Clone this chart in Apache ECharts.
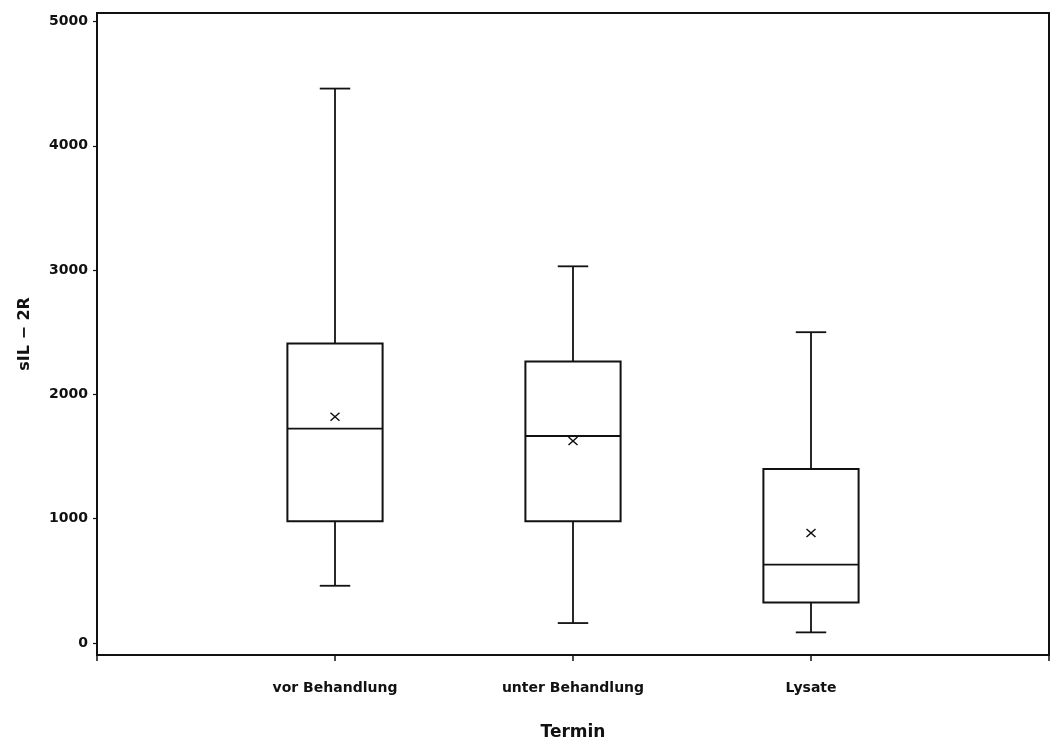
<!DOCTYPE html>
<html>
<head>
<meta charset="utf-8">
<script src="https://cdn.jsdelivr.net/npm/echarts@6/dist/echarts.min.js"></script>
<style>
  html, body { margin: 0; padding: 0; background: #fff; }
  #chart { width: 1052px; height: 748px; }
</style>
</head>
<body>
<div id="chart"></div>
<script>
// ---- data ----
const categories = ['vor Behandlung', 'unter Behandlung', 'Lysate'];
const whiskerLow = [460, 160, 85];
const q1 = [980, 980, 325];
const median = [1725, 1665, 630];
const q3 = [2410, 2265, 1400];
const whiskerHigh = [4460, 3030, 2500];
const mean = [1820, 1625, 885];
const yTicks = [0, 1000, 2000, 3000, 4000, 5000];

const rows = categories.map((c, i) => [i + 1, whiskerLow[i], q1[i], median[i], q3[i], whiskerHigh[i], mean[i]]);

const INK = '#111';
const FONT = 'DejaVu Sans';

function renderItem(params, api) {
  const x = api.value(0);
  const pLow = api.coord([x, api.value(1)]);
  const pQ1 = api.coord([x, api.value(2)]);
  const pMed = api.coord([x, api.value(3)]);
  const pQ3 = api.coord([x, api.value(4)]);
  const pHigh = api.coord([x, api.value(5)]);
  const pMean = api.coord([x, api.value(6)]);
  const halfW = api.size([0.2, 0])[0];
  const capHalf = api.size([0.064, 0])[0];
  const cx = pMed[0];
  const ls = { stroke: INK, lineWidth: 1.8, fill: null };
  const line = (x1, y1, x2, y2) => ({ type: 'line', shape: { x1, y1, x2, y2 }, style: ls });
  const m = 4.5;
  return {
    type: 'group',
    children: [
      { type: 'rect', shape: { x: cx - halfW, y: pQ3[1], width: 2 * halfW, height: pQ1[1] - pQ3[1] }, style: { stroke: INK, lineWidth: 2, fill: 'rgba(0,0,0,0)' } },
      line(cx - halfW, pMed[1], cx + halfW, pMed[1]),
      line(cx, pQ3[1], cx, pHigh[1]),
      line(cx, pQ1[1], cx, pLow[1]),
      line(cx - capHalf, pHigh[1], cx + capHalf, pHigh[1]),
      line(cx - capHalf, pLow[1], cx + capHalf, pLow[1]),
      { type: 'line', shape: { x1: cx - m, y1: pMean[1] - m + 0.5, x2: cx + m, y2: pMean[1] + m - 0.5 }, style: { stroke: INK, lineWidth: 1.5 } },
      { type: 'line', shape: { x1: cx - m, y1: pMean[1] + m - 0.5, x2: cx + m, y2: pMean[1] - m + 0.5 }, style: { stroke: INK, lineWidth: 1.5 } }
    ]
  };
}

const chart = echarts.init(document.getElementById('chart'), null, { renderer: 'canvas' });
chart.setOption({
  backgroundColor: '#fff',
  animation: false,
  grid: {
    left: 97, right: 2, top: 13, bottom: 93,
    show: true, borderColor: INK, borderWidth: 2, backgroundColor: 'transparent'
  },
  xAxis: {
    type: 'value', min: 0, max: 4, interval: 1,
    name: 'Termin', nameLocation: 'middle', nameGap: 69,
    nameTextStyle: { fontFamily: FONT, fontWeight: 'bold', fontSize: 17, color: INK },
    axisLine: { show: true, onZero: false, lineStyle: { color: INK, width: 2 } },
    axisTick: { show: true, length: 6, lineStyle: { color: INK, width: 1.5 } },
    splitLine: { show: false },
    axisLabel: {
      margin: 26, fontFamily: FONT, fontWeight: 'bold', fontSize: 14, color: INK,
      formatter: v => categories[v - 1] || ''
    }
  },
  yAxis: {
    type: 'value', min: -97, max: 5068,
    name: 'sIL \u2212 2R', nameLocation: 'middle', nameGap: 64, nameRotate: 90,
    nameTextStyle: { fontFamily: FONT, fontWeight: 'bold', fontSize: 16, color: INK },
    axisLine: { show: true, lineStyle: { color: INK, width: 2 } },
    axisTick: { show: true, length: 4, customValues: yTicks, lineStyle: { color: INK, width: 1.2 } },
    splitLine: { show: false },
    axisLabel: {
      margin: 9, fontFamily: FONT, fontWeight: 'bold', fontSize: 14, color: INK,
      customValues: yTicks,
      formatter: v => String(v)
    }
  },
  series: [{
    type: 'custom',
    renderItem: renderItem,
    encode: { x: 0, y: [1, 2, 3, 4, 5, 6] },
    data: rows,
    clip: false
  }]
});
</script>
</body>
</html>
